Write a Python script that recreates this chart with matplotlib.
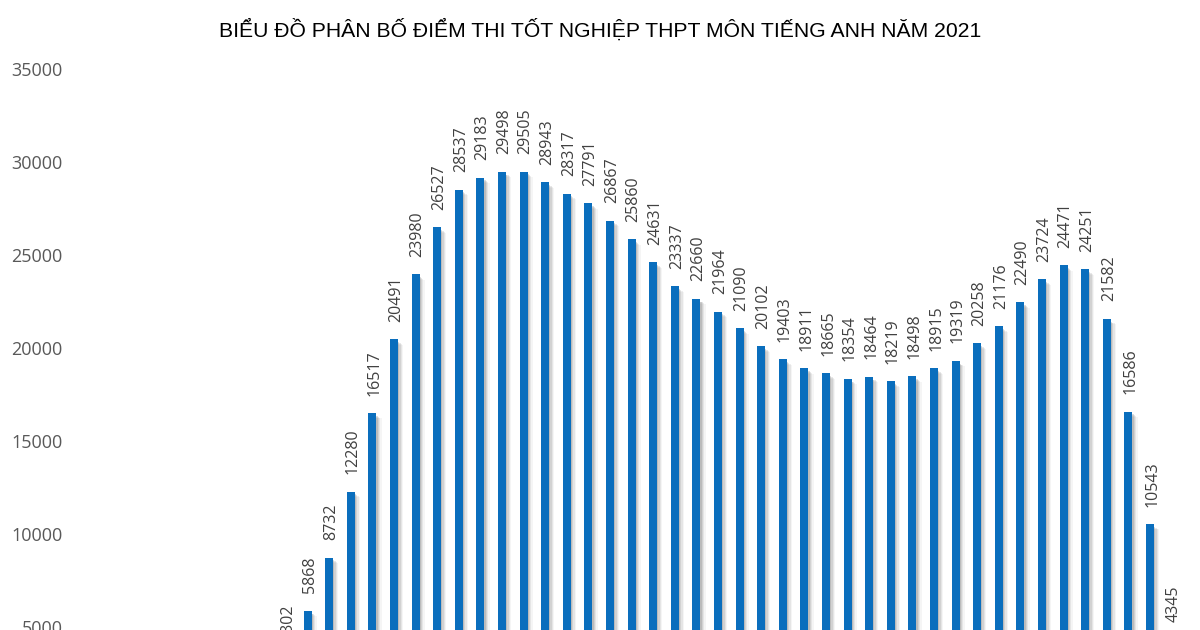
import matplotlib
matplotlib.use("Agg")
import matplotlib.pyplot as plt
import numpy as np

title = "BIỂU ĐỒ PHÂN BỐ ĐIỂM THI TỐT NGHIỆP THPT MÔN TIẾNG ANH NĂM 2021"

# visible categories: scores 1.8 .. 10.0 (step 0.2)
scores = ["1.8", "2.0", "2.2", "2.4", "2.6", "2.8", "3.0", "3.2", "3.4", "3.6",
          "3.8", "4.0", "4.2", "4.4", "4.6", "4.8", "5.0", "5.2", "5.4", "5.6",
          "5.8", "6.0", "6.2", "6.4", "6.6", "6.8", "7.0", "7.2", "7.4", "7.6",
          "7.8", "8.0", "8.2", "8.4", "8.6", "8.8", "9.0", "9.2", "9.4", "9.6",
          "9.8", "10.0"]
counts = [3302, 5868, 8732, 12280, 16517, 20491, 23980, 26527, 28537, 29183,
          29498, 29505, 28943, 28317, 27791, 26867, 25860, 24631, 23337, 22660,
          21964, 21090, 20102, 19403, 18911, 18665, 18354, 18464, 18219, 18498,
          18915, 19319, 20258, 21176, 22490, 23724, 24471, 24251, 21582, 16586,
          10543, 4345]
yticks = [5000, 10000, 15000, 20000, 25000, 30000, 35000]

W, H = 1200, 630
fig = plt.figure(figsize=(12, 6.3), dpi=100)
fig.patch.set_facecolor("white")

left_px, right_px = 75, 1192
top_px = 69.5
ax = fig.add_axes([left_px / W, 0.0, (right_px - left_px) / W, 1 - top_px / H])

x = np.arange(len(counts))
vals = np.array(counts)
bw = 0.37

# soft shadow to the right of each bar
for off, a, drop in [(0.06, 0.25, 150), (0.12, 0.18, 200), (0.18, 0.12, 250), (0.24, 0.07, 300)]:
    ax.bar(x + off, vals - drop, width=bw, color="#7a7a7a", alpha=a, zorder=1, linewidth=0)
ax.bar(x, vals, width=bw, color="#0A6EBD", zorder=3, linewidth=0)

for xi, v in zip(x, counts):
    ax.annotate(str(v), (xi, v), xytext=(1.5, 12.5), textcoords="offset points",
                rotation=90, ha="center", va="bottom", fontsize=11.5,
                family="Open Sans", color="#404040", zorder=4,
                annotation_clip=False)

px_per_cat = 21.6
x0_px = 286
ax.set_xlim((left_px - x0_px) / px_per_cat, (right_px - x0_px) / px_per_cat)
ax.set_ylim(4833, 35000)
ax.set_yticks(yticks)
ax.set_yticklabels([str(t) for t in yticks], fontsize=13, family="Open Sans", color="#595959")
ax.tick_params(axis="y", length=0, pad=9)
ax.set_xticks([])
for s in ax.spines.values():
    s.set_visible(False)
ax.set_facecolor("none")

fig.text(0.5, 1 - 30 / H, title, ha="center", va="center", fontsize=15.2,
         family="Liberation Sans", color="#000000")

fig.savefig("out.png", dpi=100, facecolor="white")
